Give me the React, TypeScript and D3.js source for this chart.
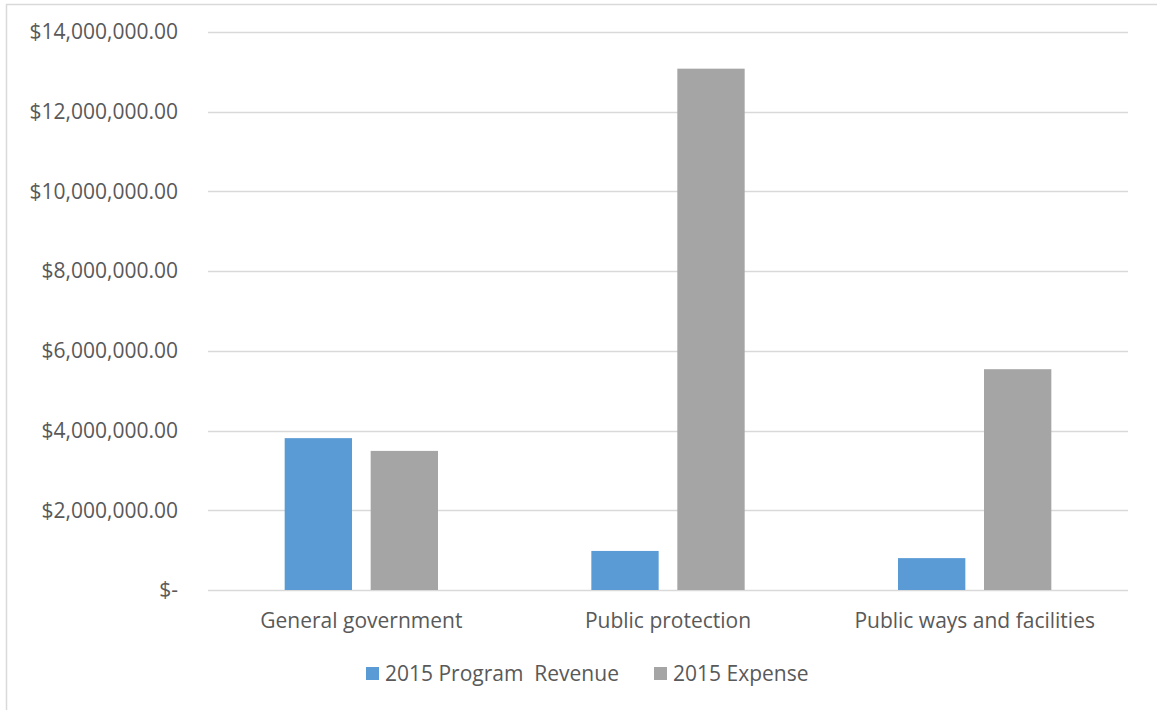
import { useEffect, useRef } from 'react';
import * as d3 from 'd3';

const categories = ['General government', 'Public protection', 'Public ways and facilities'];
const seriesNames = ['2015 Program  Revenue', '2015 Expense'];
const revenue = [3810000, 980000, 800000];
const expense = [3490000, 13080000, 5540000];
const yTicks = [0, 2000000, 4000000, 6000000, 8000000, 10000000, 12000000, 14000000];

const COLORS = ['#5B9BD5', '#A5A5A5'];
const TEXT = '#595959';
const FONT = '"Open Sans", "Noto Sans", sans-serif';
const FS = '21px';

export default function App() {
  const svgRef = useRef<SVGSVGElement>(null);

  useEffect(() => {
    if (!svgRef.current) return;
    const W = 1157;
    const H = 710;
    const margin = { top: 32, right: 29, bottom: 120, left: 208 };
    const width = W - margin.left - margin.right;
    const height = H - margin.top - margin.bottom;

    const svg = d3.select(svgRef.current);
    svg.selectAll('*').remove();

    // chart area border
    svg.append('rect')
      .attr('x', 6.5)
      .attr('y', 4.5)
      .attr('width', 1300)
      .attr('height', 900)
      .attr('fill', 'white')
      .attr('stroke', '#D9D9D9')
      .attr('stroke-width', 1.5);

    const g = svg.append('g')
      .attr('transform', `translate(${margin.left},${margin.top})`);

    const x = d3.scaleBand()
      .domain(categories)
      .range([0, width])
      .padding(0);

    const y = d3.scaleLinear()
      .domain([0, 14000000])
      .range([height, 0]);

    const bw = x.bandwidth();
    const inner = d3.scaleBand()
      .domain(seriesNames)
      .range([bw * 0.25, bw * 0.75])
      .paddingInner(0.217)
      .paddingOuter(0);

    // gridlines
    g.append('g')
      .selectAll('line')
      .data(yTicks)
      .enter()
      .append('line')
      .attr('x1', 0)
      .attr('x2', width)
      .attr('y1', d => Math.round(y(d)) + 0.5)
      .attr('y2', d => Math.round(y(d)) + 0.5)
      .attr('stroke', '#D9D9D9')
      .attr('stroke-width', 1.5);

    // y tick labels
    const fmt = d3.format(',.2f');
    g.append('g')
      .selectAll('text')
      .data(yTicks)
      .enter()
      .append('text')
      .attr('x', -30)
      .attr('y', d => y(d))
      .attr('dy', '0.35em')
      .attr('text-anchor', 'end')
      .attr('font-family', FONT)
      .attr('font-size', FS)
      .attr('fill', TEXT)
      .text(d => (d === 0 ? '$-' : `$${fmt(d)}`));

    const seriesData = [revenue, expense];

    seriesNames.forEach((name, si) => {
      g.append('g')
        .selectAll('rect')
        .data(categories)
        .enter()
        .append('rect')
        .attr('x', c => x(c)! + inner(name)!)
        .attr('y', (c, i) => y(seriesData[si][i]))
        .attr('width', inner.bandwidth())
        .attr('height', (c, i) => height - y(seriesData[si][i]))
        .attr('fill', COLORS[si]);
    });

    // category labels
    g.append('g')
      .selectAll('text')
      .data(categories)
      .enter()
      .append('text')
      .attr('x', c => x(c)! + bw / 2)
      .attr('y', height + 38)
      .attr('text-anchor', 'middle')
      .attr('font-family', FONT)
      .attr('font-size', FS)
      .attr('fill', TEXT)
      .text(c => c);

    // legend
    const legend = svg.append('g');
    const items = [
      { name: seriesNames[0], x: 366, color: COLORS[0] },
      { name: seriesNames[1], x: 654, color: COLORS[1] },
    ];
    items.forEach(it => {
      legend.append('rect')
        .attr('x', it.x)
        .attr('y', 667)
        .attr('width', 13)
        .attr('height', 13)
        .attr('fill', it.color);
      legend.append('text')
        .attr('x', it.x + 19)
        .attr('y', 681)
        .attr('font-family', FONT)
        .attr('font-size', FS)
        .attr('fill', TEXT)
        .style('white-space', 'pre')
        .attr('xml:space', 'preserve')
        .text(it.name);
    });
  }, []);

  return (
    <svg
      ref={svgRef}
      width={1157}
      height={710}
      style={{ position: 'absolute', left: 0, top: 0, background: 'white' }}
    />
  );
}
